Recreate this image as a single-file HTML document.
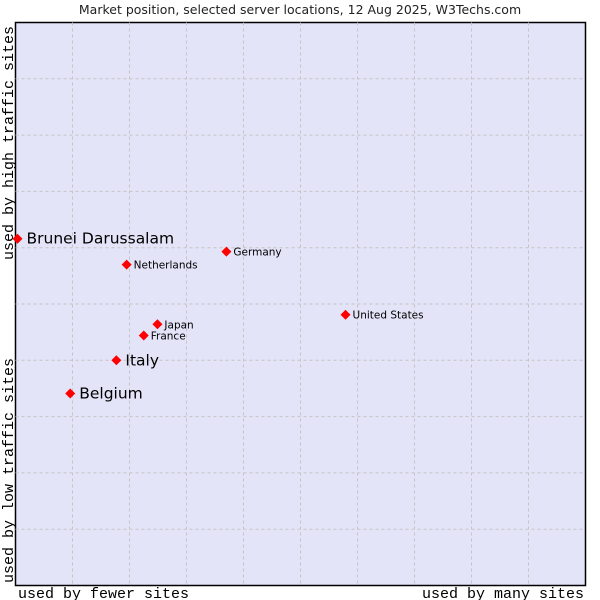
<!DOCTYPE html>
<html><head><meta charset="utf-8"><style>
body{margin:0;background:#fff;}
svg{display:block;}
</style></head><body>
<svg width="600" height="600" xmlns="http://www.w3.org/2000/svg">
<text x="300" y="14" text-anchor="middle" font-family="DejaVu Sans, sans-serif" font-size="12.5" fill="#222">Market position, selected server locations, 12 Aug 2025, W3Techs.com</text>
<rect x="15.5" y="22.5" width="570" height="563" fill="#e3e4f8" stroke="#000" stroke-width="1.5"/>
<g id="grid"></g>
<g id="marks"></g>
<text x="18" y="598" font-family="Liberation Mono, DejaVu Sans Mono, monospace" font-size="15" fill="#000">used by fewer sites</text>
<text x="584" y="598" text-anchor="end" font-family="Liberation Mono, DejaVu Sans Mono, monospace" font-size="15" fill="#000">used by many sites</text>
<text transform="translate(13,583) rotate(-90)" font-family="Liberation Mono, DejaVu Sans Mono, monospace" font-size="15" fill="#000">used by low traffic sites</text>
<text transform="translate(13,260) rotate(-90)" font-family="Liberation Mono, DejaVu Sans Mono, monospace" font-size="15" fill="#000">used by high traffic sites</text>
</svg>
<script>
const names = ["Brunei Darussalam","Netherlands","Germany","United States","Japan","France","Italy","Belgium"];
const xValues = [0.35,19.5,37.0,57.9,24.9,22.5,17.7,9.6];
const yValues = [61.6,57.0,59.3,48.1,46.4,44.4,40.0,34.1];
const highlighted = [true,false,false,false,false,false,true,true];
const NS="http://www.w3.org/2000/svg";
const L=15.5,T=22.5,W=570,H=563;
function sx(v){return L+v/100*W;}
function sy(v){return T+H-v/100*H;}
const grid=document.getElementById('grid');
for(let i=1;i<10;i++){
  const v=document.createElementNS(NS,'line');
  v.setAttribute('x1',sx(i*10));v.setAttribute('x2',sx(i*10));v.setAttribute('y1',T);v.setAttribute('y2',T+H);
  v.setAttribute('stroke','#c4c4c4');v.setAttribute('stroke-dasharray','3,3');
  
  
  grid.appendChild(v);
  const h=document.createElementNS(NS,'line');
  h.setAttribute('y1',sy(i*10));h.setAttribute('y2',sy(i*10));h.setAttribute('x1',L);h.setAttribute('x2',L+W);
  h.setAttribute('stroke','#c4c4c4');h.setAttribute('stroke-dasharray','3,3');
  
  
  grid.appendChild(h);
}
const marks=document.getElementById('marks');
names.forEach((n,i)=>{
  const x=sx(xValues[i]),y=sy(yValues[i]);
  const d=document.createElementNS(NS,'polygon');
  d.setAttribute('points',`${x},${y-5} ${x+5},${y} ${x},${y+5} ${x-5},${y}`);
  d.setAttribute('fill','#f00');
  
  
  marks.appendChild(d);
  const t=document.createElementNS(NS,'text');
  const big=highlighted[i];
  t.setAttribute('x',x+(big?9:7));
  t.setAttribute('y',y+(big?5:4));
  t.setAttribute('font-family','DejaVu Sans, sans-serif');
  t.setAttribute('font-size',big?'15.5':'10.5');
  t.setAttribute('fill','#000');
  t.textContent=n;
  
  
  marks.appendChild(t);
});
</script>
</body></html>
